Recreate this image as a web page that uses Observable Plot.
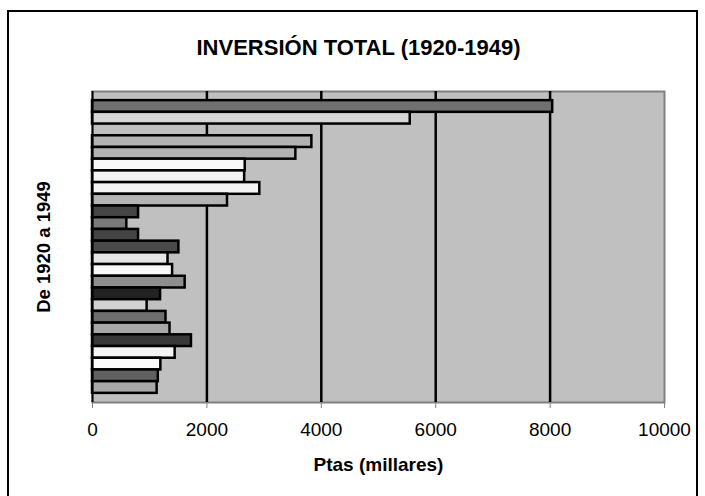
<!DOCTYPE html>
<html>
<head>
<meta charset="utf-8">
<script src="https://cdn.jsdelivr.net/npm/d3@7"></script>
<script src="https://cdn.jsdelivr.net/npm/@observablehq/plot@0.6"></script>
<style>
  html, body { margin: 0; padding: 0; background: #fff; }
  #wrap { position: relative; width: 705px; height: 496px; overflow: hidden; background: #fff; }
  #border { position: absolute; left: 7px; top: 10px; width: 687px; height: 520px; border: 2px solid #000; box-sizing: content-box; }
  #chart { position: absolute; left: 0; top: 0; }
</style>
</head>
<body>
<div id="wrap"><div id="border"></div><div id="chart"></div></div>
<script>
// Data (top to bottom as drawn)
const series = ["Serie 1","Serie 2","Serie 3","Serie 4","Serie 5","Serie 6","Serie 7","Serie 8","Serie 9","Serie 10",
  "Serie 11","Serie 12","Serie 13","Serie 14","Serie 15","Serie 16","Serie 17","Serie 18","Serie 19","Serie 20",
  "Serie 21","Serie 22","Serie 23","Serie 24","Serie 25"];
const values = [8045, 5555, null, 3835, 3555, 2670, 2660, 2925, 2360, 805,
  600, 805, 1510, 1320, 1400, 1620, 1190, 955, 1285, 1355,
  1730, 1445, 1195, 1150, 1130];
const palette = ["#707070","#d6d6d6","#b0b0b0","#b2b2b2","#b2b2b2","#f8f8f8","#f4f4f4","#f4f4f4","#b4b4b4","#464646",
  "#7a7a7a","#444444","#4a4a4a","#e6e6e6","#f8f8f8","#8e8e8e","#222222","#d2d2d2","#6e6e6e","#a8a8a8",
  "#383838","#f4f4f4","#fcfcfc","#606060","#a8a8a8"];
const xTicks = [0, 2000, 4000, 6000, 8000, 10000];
const gridTicks = [2000, 4000, 6000, 8000];
const title = "INVERSIÓN TOTAL (1920-1949)";
const xLabel = "Ptas (millares)";
const yLabel = "De 1920 a 1949";

const data = series.map((s, i) => ({serie: s, valor: values[i]}));

const chart = Plot.plot({
  width: 705,
  height: 496,
  marginLeft: 92,
  marginRight: 41,
  marginTop: 91,
  marginBottom: 94,
  style: {fontFamily: "'Liberation Sans', Arial, sans-serif", fontSize: "19px", background: "transparent", color: "#000", overflow: "visible"},
  x: {domain: [0, 10000], axis: null},
  y: {domain: series, axis: null, paddingInner: 0, paddingOuter: 0.78, round: false},
  color: {domain: series, range: palette},
  marks: [
    Plot.frame({fill: "#c0c0c0", stroke: "#808080", strokeWidth: 2}),
    Plot.ruleX(gridTicks, {stroke: "#000", strokeWidth: 2.5}),
    Plot.barX(data.filter(d => d.valor != null), {y: "serie", x: "valor", fill: "serie", stroke: "#000", strokeWidth: 2.5, insetTop: 0, insetBottom: 0}),
    Plot.ruleX([0], {stroke: "#000", strokeWidth: 2}),
    Plot.axisX(xTicks, {tickSize: 6, tickPadding: 14, stroke: "#808080", fill: "#000", fontSize: 19, label: null, tickFormat: d => String(d)}),
    Plot.text([title], {frameAnchor: "top", lineAnchor: "bottom", dy: -37, dx: -20, fontWeight: "bold", fontSize: 22, fill: "#000"}),
    Plot.text([xLabel], {frameAnchor: "bottom", lineAnchor: "bottom", dy: 68, fontWeight: "bold", fontSize: 19, fill: "#000"}),
    Plot.text([yLabel], {frameAnchor: "left", textAnchor: "middle", lineAnchor: "bottom", rotate: -90, dx: -43, dy: 0, fontWeight: "bold", fontSize: 18.5, fill: "#000"})
  ]
});
document.getElementById("chart").appendChild(chart);
</script>
</body>
</html>
